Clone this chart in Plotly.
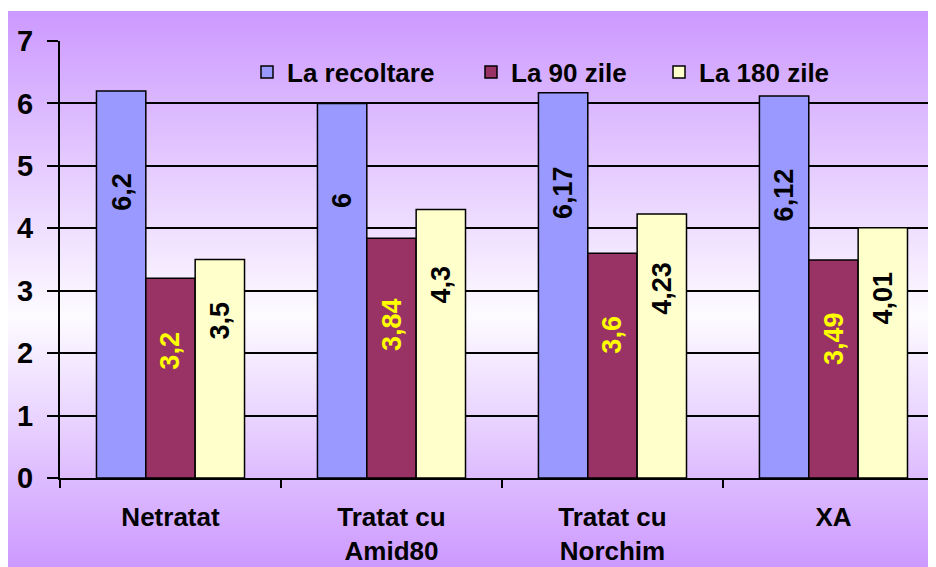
import base64
import plotly.graph_objects as go

categories = ["Netratat", "Tratat cu<br>Amid80", "Tratat cu<br>Norchim", "XA"]
series_names = ["La recoltare", "La 90 zile", "La 180 zile"]
recoltare = [6.2, 6.0, 6.17, 6.12]
zile90 = [3.2, 3.84, 3.6, 3.49]
zile180 = [3.5, 4.3, 4.23, 4.01]
label_recoltare = ["6,2", "6", "6,17", "6,12"]
label_90 = ["3,2", "3,84", "3,6", "3,49"]
label_180 = ["3,5", "4,3", "4,23", "4,01"]
y_ticks = [0, 1, 2, 3, 4, 5, 6, 7]

series = [recoltare, zile90, zile180]
labels = [label_recoltare, label_90, label_180]
colors = ["#9999FF", "#993366", "#FFFFCC"]
label_colors = ["#000000", "#FFFF00", "#000000"]
label_frac = [0.74, 0.64, 0.72]  # vertical placement of in-bar labels (style)

FONT = "Liberation Sans, Arial, sans-serif"
OFF = 8  # page body margin
W, H = 936 - OFF, 567 - OFF
ML, MR, MT, MB = 60 - OFF, 0, 41 - OFF, 89
PW, PH = W - ML - MR, H - MT - MB
BARGAP = 0.33
XMAX = 3.464

fig = go.Figure()
legend_x_px = [247 - OFF, 471 - OFF, 659 - OFF]
for k, (name, vals) in enumerate(zip(series_names, series)):
    lg = "legend" if k == 0 else f"legend{k+1}"
    fig.add_trace(go.Bar(
        name=name, x=categories, y=vals,
        marker=dict(color=colors[k], line=dict(color="black", width=1.5)),
        legend=lg,
    ))

bw = (1 - BARGAP) / 3
for k in range(3):
    for i, v in enumerate(series[k]):
        fig.add_annotation(
            x=i + (k - 1) * bw, y=v * label_frac[k], xref="x", yref="y",
            text=labels[k][i], textangle=-90, showarrow=False,
            font=dict(family=FONT, size=27, color=label_colors[k], weight="bold"),
            xanchor="center", yanchor="middle",
        )

# gradient background image
svg = ('<svg xmlns="http://www.w3.org/2000/svg" width="928" height="556" preserveAspectRatio="none">'
       '<defs><linearGradient id="g" x1="0" y1="0" x2="0" y2="1">'
       '<stop offset="0" stop-color="#CC99FF"/>'
       '<stop offset="0.55" stop-color="#FDFBFF"/>'
       '<stop offset="1" stop-color="#CC99FF"/>'
       '</linearGradient></defs><rect width="928" height="556" fill="url(#g)"/></svg>')
src = "data:image/svg+xml;base64," + base64.b64encode(svg.encode()).decode()
bg_left, bg_top = 8 - OFF, 11 - OFF
fig.add_layout_image(dict(
    source=src, xref="paper", yref="paper",
    x=(bg_left - ML) / PW, y=(H - MB - bg_top) / PH,
    sizex=(W - bg_left) / PW, sizey=(H - bg_top) / PH,
    xanchor="left", yanchor="top", sizing="stretch", layer="below",
))

legend_common = dict(
    orientation="h", yanchor="middle", xanchor="left",
    bgcolor="rgba(0,0,0,0)", borderwidth=0,
    font=dict(family=FONT, size=26, color="black", weight="bold"),
)
leg_y = (H - MB - (72 - OFF)) / PH
fig.update_layout(
    width=W, height=H,
    margin=dict(l=ML, r=MR, t=MT, b=MB, autoexpand=False),
    paper_bgcolor="white", plot_bgcolor="rgba(0,0,0,0)",
    barmode="group", bargap=BARGAP, bargroupgap=0,
    legend=dict(x=(legend_x_px[0] - ML) / PW, y=leg_y, **legend_common),
    legend2=dict(x=(legend_x_px[1] - ML) / PW, y=leg_y, **legend_common),
    legend3=dict(x=(legend_x_px[2] - ML) / PW, y=leg_y, **legend_common),
    xaxis=dict(
        type="category", range=[-0.5, XMAX], showgrid=False, automargin=False,
        showline=True, linecolor="black", linewidth=2,
        ticks="outside", tickson="boundaries", ticklen=8, tickwidth=1.5, tickcolor="black",
        tickfont=dict(family=FONT, size=26, color="black", weight="bold"),
        ticklabelstandoff=15,
    ),
    yaxis=dict(
        range=[0, 7], tickvals=y_ticks, showgrid=True, gridcolor="black", gridwidth=1.5,
        showline=True, linecolor="black", linewidth=2, zeroline=False, automargin=False,
        ticks="outside", ticklen=11, tickwidth=1.5, tickcolor="black",
        tickfont=dict(family=FONT, size=29, color="black", weight="bold"),
        ticklabelstandoff=8,
    ),
    showlegend=True,
)

fig.write_html("out.html")
